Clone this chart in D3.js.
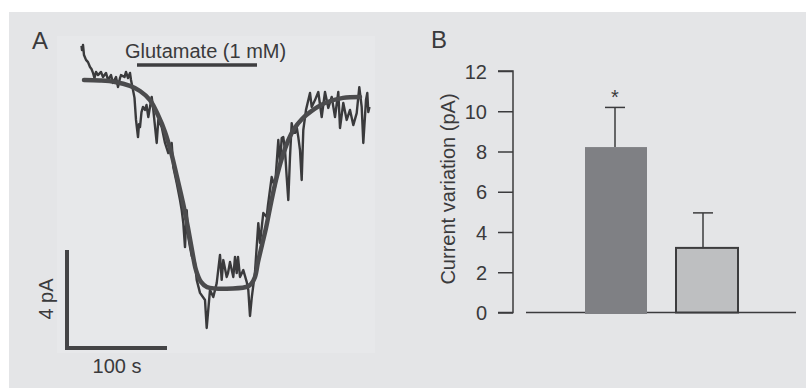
<!DOCTYPE html>
<html>
<head>
<meta charset="utf-8">
<script src="https://cdn.jsdelivr.net/npm/d3@7/dist/d3.min.js"></script>
<style>
  html, body { margin: 0; padding: 0; background: #ffffff; }
  svg { display: block; }
  text { font-family: "Liberation Sans", Arial, sans-serif; fill: #3a3a3c; }
</style>
</head>
<body>
<svg id="chart" width="806" height="388"></svg>
<script>
// ---- Panel A: whole-cell current recording (time in s, current in pA) ----
const traceTime = [
  -1.5, -1, 0, 1, 3, 5, 7, 8.5, 10, 11.5, 13, 15, 18, 20, 23, 25, 28, 30, 33, 35,
  37, 38, 41.5, 43, 45, 47, 48, 50, 51.5, 53, 55, 56, 57, 58.5, 60, 62, 63.5, 65.3, 68.7, 70.3,
  73.7, 75.3, 78.7, 82, 85.3, 88.7, 90.3, 93.7, 97, 98.7, 100.3, 102, 103.7, 105.3, 107, 108.7, 112, 113.7, 117, 122,
  123.7, 127, 130.3, 133.7, 137, 138.7, 140.3, 143.7, 145, 147, 150.3, 152, 153.7, 155, 157, 160.3, 163.7, 165.3, 167, 168.7,
  172, 175.3, 177, 180.3, 183.7, 185, 188.7, 192, 195.3, 197, 198.7, 200.3, 202, 203.7, 205.3, 207, 208.7, 210.3, 212, 213.7,
  215.3, 217, 218.7, 220.3, 223, 227, 228.7, 232, 235.3, 238.7, 242, 245.3, 248.7, 252, 255.3, 257, 260.3, 263.7, 267, 270.3,
  273.7, 276.3, 278.7, 280.3, 283, 284.3, 285.3, 286.5
];
const traceCurrent = [
  1.39, 1.22, 1.43, 1.02, 0.82, 0.73, 0.53, 0.45, 0.29, 0.08, 0.33, 0.20, 0.33, 0.12, 0.29, 0, 0.20, -0.12, 0.12, -0.29,
  0.08, 0.20, 0.12, 0.33, 0.08, 0.29, 0, -0.41, -0.73, -1.63, -2.33, -1.80, -1.92, -1.31, -1.10, -1.22, -1.02, -1.51, -0.69, -1.22,
  -2.57, -1.63, -1.92, -2.57, -2.98, -2.57, -3.55, -4.20, -4.90, -5.31, -5.84, -6.82, -5.31, -6.41, -6.82, -7.18, -7.47, -8.16, -8.69, -8.98,
  -10.12, -8.57, -8.86, -8.29, -7.14, -8.16, -7.35, -8.04, -7.88, -7.43, -8.04, -7.22, -7.88, -7.22, -8.04, -7.76, -8.24, -8.57, -9.63, -8.90,
  -7.84, -5.84, -6.65, -5.43, -5.59, -5.10, -3.96, -4.37, -2.45, -3.39, -2.37, -2.33, -2.86, -3.96, -4.90, -3.14, -1.76, -2.16, -2.16, -1.92,
  -2.33, -2.86, -4.08, -2.04, -1.22, -0.53, -1.10, -0.82, -0.49, -1.51, -0.49, -1.14, -0.69, -1.51, -0.49, -1.96, -0.94, -1.63, -1.22, -1.84,
  -1.35, -0.29, -1.10, -2.57, -0.82, -0.53, -1.31, -1.10
];

// Fitted current time course
const fitTime = [1, 17, 32, 47, 57, 67, 75, 82, 88, 94, 100, 105, 109, 113, 118, 124, 163, 168, 172, 175,
  179, 183, 188, 193, 199, 205, 211, 219, 227, 242, 260, 277];
const fitCurrent = [0, -0.02, -0.08, -0.24, -0.45, -0.82, -1.43, -2.12, -2.94, -3.96, -5.02, -6.04, -6.94, -7.76, -8.24, -8.45, -8.45, -8.33, -8.04, -7.43,
  -6.73, -6.04, -5.02, -4.08, -3.18, -2.49, -2.00, -1.59, -1.31, -0.94, -0.73, -0.69];

// Agonist application window (s)
const applicationStart = 54;
const applicationEnd = 174;
const applicationLabel = "Glutamate (1 mM)";

// Scale bars
const scaleBarTime = 100;      // s
const scaleBarCurrent = 4;     // pA
const timeUnit = "s";
const currentUnit = "pA";

// ---- Panel B: mean current variation ----
const groups = ["Group 1", "Group 2"];
const barMeans = [8.22, 3.21];
const barErrors = [1.97, 1.74];
const barSignificance = ["*", ""];
const yTicks = [0, 2, 4, 6, 8, 10, 12];
const yAxisTitle = "Current variation (pA)";

const barFill = ["#7f8084", "#bebfc1"];
const barStroke = [null, "#3c3c3e"];

const svg = d3.select("#chart");
const ink = "#3b3b3d";
const fs = 20;
const panelFs = 24;

// Backgrounds
svg.append("rect").attr("x", 9).attr("y", 12).attr("width", 797).attr("height", 376).attr("fill", "#e4e5e7");
svg.append("rect").attr("x", 57).attr("y", 36).attr("width", 318).attr("height", 317).attr("fill", "#e7e8ea");

// ---------------- Panel A ----------------
const gA = svg.append("g");
const xA = d3.scaleLinear().domain([0, 300]).range([83, 383]);
const yA = d3.scaleLinear().domain([-9, 2]).range([300.5, 31]);

gA.append("text").attr("x", 32).attr("y", 49).attr("font-size", panelFs).text("A");

// trace
const traceData = traceTime.map((t, i) => ({ t, v: traceCurrent[i] }));
gA.append("path")
  .datum(traceData)
  .attr("fill", "none")
  .attr("stroke", "#3a3a3c")
  .attr("stroke-width", 2.4)
  .attr("stroke-linejoin", "round")
  .attr("d", d3.line().x(d => xA(d.t)).y(d => yA(d.v)));

// fit
const fitData = fitTime.map((t, i) => ({ t, v: fitCurrent[i] }));
gA.append("path")
  .datum(fitData)
  .attr("fill", "none")
  .attr("stroke", "#4b4b4d")
  .attr("stroke-width", 4.5)
  .attr("stroke-linecap", "round")
  .attr("d", d3.line().curve(d3.curveCatmullRom).x(d => xA(d.t)).y(d => yA(d.v)));

// application bar + label
const appLevel = 0.61;
gA.append("line")
  .attr("x1", xA(applicationStart)).attr("x2", xA(applicationEnd))
  .attr("y1", yA(appLevel)).attr("y2", yA(appLevel))
  .attr("stroke", "#3e3e40").attr("stroke-width", 3.5);
gA.append("text")
  .attr("x", xA(applicationStart) - 12).attr("y", yA(appLevel) - 7)
  .attr("font-size", fs).text(applicationLabel);

// scale bars (anchored in data coordinates)
const sbT0 = -16, sbV0 = -10.94;
gA.append("path")
  .attr("fill", "none").attr("stroke", "#444446").attr("stroke-width", 4)
  .attr("d", `M${xA(sbT0)},${yA(sbV0 + scaleBarCurrent)} L${xA(sbT0)},${yA(sbV0)} L${xA(sbT0 + scaleBarTime)},${yA(sbV0)}`);
gA.append("text")
  .attr("x", xA(sbT0 + scaleBarTime / 2)).attr("y", yA(sbV0) + 25)
  .attr("text-anchor", "middle").attr("font-size", fs)
  .text(`${scaleBarTime} ${timeUnit}`);
gA.append("text")
  .attr("transform", `translate(${xA(sbT0) - 14},${yA(sbV0 + scaleBarCurrent / 2)}) rotate(-90)`)
  .attr("text-anchor", "middle").attr("font-size", fs)
  .text(`${scaleBarCurrent} ${currentUnit}`);

// ---------------- Panel B ----------------
const gB = svg.append("g");
const yB = d3.scaleLinear().domain([0, 12]).range([312.5, 71]);
const xB = d3.scaleBand().domain(groups).range([585, 738]).paddingInner(29 / 91).paddingOuter(0);

gB.append("text").attr("x", 431).attr("y", 48).attr("font-size", panelFs).text("B");

const axis = d3.axisLeft(yB).tickValues(yTicks).tickSize(15).tickPadding(11).tickFormat(d3.format("d"));
const axG = gB.append("g").attr("transform", "translate(513,0)").call(axis);
axG.select(".domain").attr("stroke", ink).attr("stroke-width", 1.5).attr("d", `M-15,${yB(12)}H0V${yB(0)}H-15`);
axG.selectAll(".tick line").attr("stroke", ink).attr("stroke-width", 1.5);
axG.selectAll(".tick text")
  .attr("font-size", fs)
  .attr("font-family", "\"Liberation Sans\", Arial, sans-serif")
  .attr("fill", "#3a3a3c")
  .attr("dy", "0.36em");

gB.append("text")
  .attr("transform", `translate(455,189) rotate(-90)`)
  .attr("text-anchor", "middle").attr("font-size", fs)
  .text(yAxisTitle);

// baseline
gB.append("line").attr("x1", 526).attr("x2", 796).attr("y1", yB(0)).attr("y2", yB(0))
  .attr("stroke", ink).attr("stroke-width", 1.5);

// error bars
groups.forEach((g, i) => {
  const cx = xB(g) + xB.bandwidth() / 2 - (i === 0 ? 1 : 4);
  gB.append("line").attr("x1", cx).attr("x2", cx)
    .attr("y1", yB(barMeans[i])).attr("y2", yB(barMeans[i] + barErrors[i]))
    .attr("stroke", ink).attr("stroke-width", 1.5);
  gB.append("line").attr("x1", cx - 10).attr("x2", cx + 10)
    .attr("y1", yB(barMeans[i] + barErrors[i])).attr("y2", yB(barMeans[i] + barErrors[i]))
    .attr("stroke", ink).attr("stroke-width", 1.5);
  if (barSignificance[i]) {
    gB.append("text").attr("x", cx).attr("y", yB(barMeans[i] + barErrors[i]) - 3)
      .attr("text-anchor", "middle").attr("font-size", fs).text(barSignificance[i]);
  }
});

// bars
gB.selectAll("rect.bar").data(groups).enter().append("rect")
  .attr("class", "bar")
  .attr("x", d => xB(d))
  .attr("width", xB.bandwidth())
  .attr("y", (d, i) => yB(barMeans[i]))
  .attr("height", (d, i) => yB(0) - yB(barMeans[i]) + (barStroke[i] ? 0 : 1.5))
  .attr("fill", (d, i) => barFill[i])
  .attr("stroke", (d, i) => barStroke[i] || "none")
  .attr("stroke-width", 2);
</script>
</body>
</html>
